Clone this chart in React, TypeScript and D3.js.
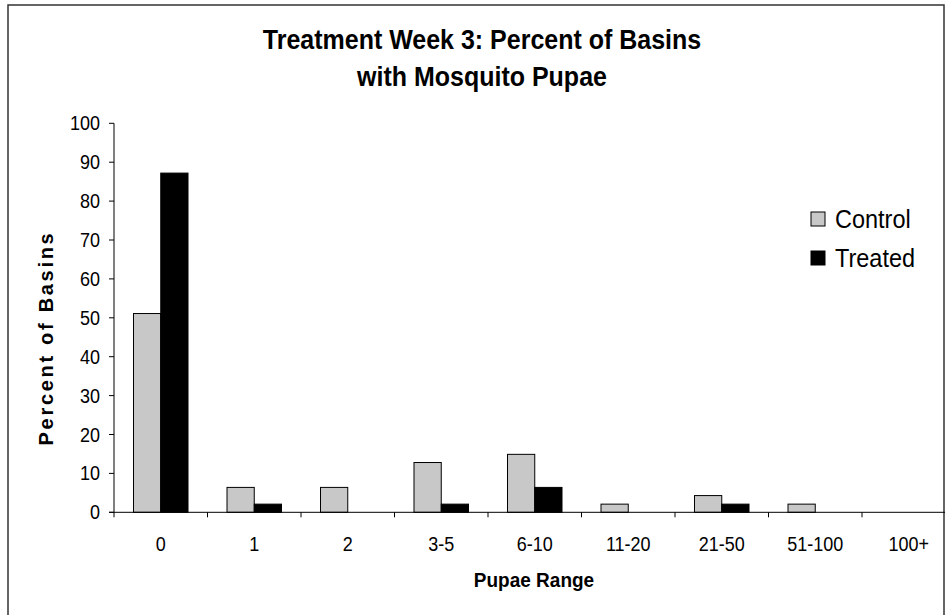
import React from "react";
import * as d3 from "d3";

const categories = ["0", "1", "2", "3-5", "6-10", "11-20", "21-50", "51-100", "100+"];
const seriesNames = ["Control", "Treated"];
const controlValues = [51.1, 6.4, 6.4, 12.8, 14.9, 2.1, 4.3, 2.1, 0];
const treatedValues = [87.2, 2.1, 0, 2.1, 6.4, 0, 2.1, 0, 0];
const yTicks = [0, 10, 20, 30, 40, 50, 60, 70, 80, 90, 100];
const titleLines = ["Treatment Week 3: Percent of Basins", "with Mosquito Pupae"];
const xTitle = "Pupae Range";
const yTitle = "Percent of Basins";

const W = 945;
const H = 615;
const FONT = "'Liberation Sans', Arial, Helvetica, sans-serif";
const STRETCH = 1.1;

function Txt(props: {
  x: number;
  y: number;
  size: number;
  anchor?: "start" | "middle" | "end";
  bold?: boolean;
  children: React.ReactNode;
}) {
  const { x, y, size, anchor = "start", bold = false, children } = props;
  return (
    <text
      transform={`translate(${x},${y}) scale(1,${STRETCH})`}
      textAnchor={anchor}
      fontFamily={FONT}
      fontWeight={bold ? "bold" : "normal"}
      fontSize={size}
      fill="#000"
    >
      {children}
    </text>
  );
}

export default function App() {
  React.useEffect(() => {
    document.body.style.margin = "0";
  }, []);

  const x0 = 114;
  const step = 93.5;
  const x = d3.scaleBand<string>().domain(categories).range([x0, x0 + step * categories.length]).padding(0);
  const inner = d3.scaleBand<string>().domain(seriesNames).range([19.5, x.bandwidth() - 19.5]).padding(0);
  const y = d3.scaleLinear().domain([0, 100]).range([512.3, 123.3]);
  const colors: Record<string, string> = { Control: "#c8c8c8", Treated: "#000000" };
  const values: Record<string, number[]> = { Control: controlValues, Treated: treatedValues };

  const boundaries = categories.map((c) => x(c) as number).concat([x0 + step * categories.length]);

  return (
    <svg width={W} height={H} style={{ position: "absolute", left: 0, top: 0, display: "block", background: "#fff" }}>
      <rect x={0} y={0} width={W} height={H} fill="#fff" />
      {/* frame */}
      <rect x={8} y={5} width={936} height={640} fill="none" stroke="#333" strokeWidth={1.5} />

      {/* title */}
      {titleLines.map((t, i) => (
        <Txt key={t} x={482} y={49 + i * 36.5} size={25} anchor="middle" bold>
          {t}
        </Txt>
      ))}

      {/* bars */}
      {seriesNames.map((s) =>
        categories.map((c, i) => {
          const v = values[s][i];
          if (v <= 0) return null;
          const bx = (x(c) as number) + (inner(s) as number);
          return (
            <rect
              key={s + c}
              x={bx}
              y={y(v)}
              width={inner.bandwidth()}
              height={y(0) - y(v)}
              fill={colors[s]}
              stroke="#000"
              strokeWidth={1}
            />
          );
        })
      )}

      {/* y axis */}
      <line x1={x0} x2={x0} y1={y(100)} y2={y(0)} stroke="#000" strokeWidth={1} />
      {yTicks.map((t) => (
        <g key={t}>
          <line x1={x0 - 5} x2={x0} y1={y(t)} y2={y(t)} stroke="#000" strokeWidth={1} />
          <Txt x={100} y={y(t) + 7} size={18} anchor="end">
            {t}
          </Txt>
        </g>
      ))}

      {/* x axis */}
      <line x1={x0 - 5} x2={W + 20} y1={y(0)} y2={y(0)} stroke="#000" strokeWidth={1} />
      {boundaries.map((b, i) => (
        <line key={i} x1={b} x2={b} y1={y(0)} y2={y(0) + 5} stroke="#000" strokeWidth={1} />
      ))}
      {categories.map((c) => (
        <Txt key={c} x={(x(c) as number) + x.bandwidth() / 2} y={551} size={18} anchor="middle">
          {c}
        </Txt>
      ))}

      {/* axis titles */}
      <Txt x={534} y={587} size={19} anchor="middle" bold>
        {xTitle}
      </Txt>
      <text
        transform={`translate(53,338) rotate(-90)`}
        textAnchor="middle"
        fontFamily={FONT}
        fontWeight="bold"
        fontSize={20}
        letterSpacing={2.7}
        fill="#000"
      >
        {yTitle}
      </text>

      {/* legend */}
      {seriesNames.map((s, i) => (
        <g key={s}>
          <rect x={811} y={212 + i * 39} width={14} height={14} fill={colors[s]} stroke="#000" strokeWidth={1} />
          <Txt x={835} y={228 + i * 39} size={23.5}>
            {s}
          </Txt>
        </g>
      ))}
    </svg>
  );
}
